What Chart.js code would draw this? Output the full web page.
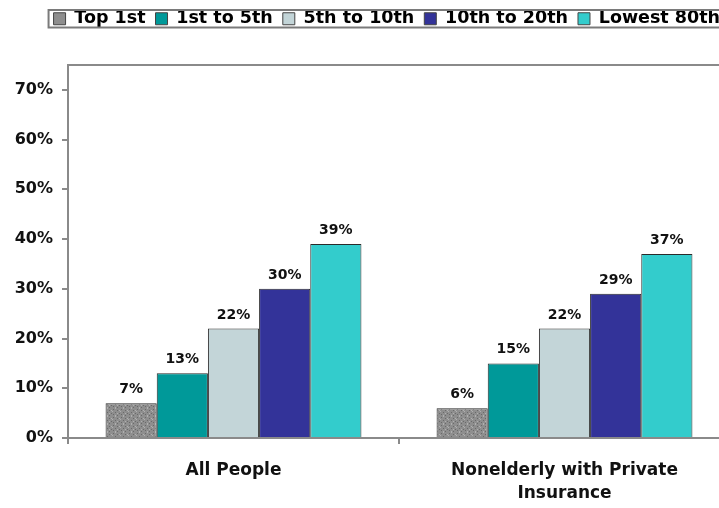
<!DOCTYPE html>
<html>
<head>
<meta charset="utf-8">
<script src="https://cdn.jsdelivr.net/npm/chart.js@4"></script>
<style>
  html, body { margin: 0; padding: 0; background: #fff; overflow: hidden; }
  #wrap { position: relative; width: 736px; height: 508px; }
</style>
</head>
<body>
<div id="wrap"><canvas id="shareChart"></canvas></div>
<script>
// categories and series (percent)
var categories = ['All People', ['Nonelderly with Private', 'Insurance']];
var seriesNames = ['Top 1st', '1st to 5th', '5th to 10th', '10th to 20th', 'Lowest 80th'];
var topFirst = [7, 6];
var firstToFifth = [13, 15];
var fifthToTenth = [22, 22];
var tenthToTwentieth = [30, 29];
var lowestEightieth = [39, 37];
var yTicks = [0, 10, 20, 30, 40, 50, 60, 70];

var FONT = '"DejaVu Sans", "Liberation Sans", Arial, sans-serif';
var AXIS_GRAY = '#8a8a8a';

// speckled gray fill for the "Top 1st" bars
function speckle() {
  var c = document.createElement('canvas');
  c.width = 8; c.height = 8;
  var g = c.getContext('2d');
  g.fillStyle = '#8e8e8e';
  g.fillRect(0, 0, 8, 8);
  g.fillStyle = '#6a6a6a';
  [[1, 1], [5, 2], [3, 4], [7, 5], [1, 6], [5, 7]].forEach(function (p) {
    g.fillRect(p[0], p[1], 1, 1);
  });
  g.fillStyle = '#b0b0b0';
  [[3, 0], [7, 2], [0, 3], [5, 5], [3, 7]].forEach(function (p) {
    g.fillRect(p[0], p[1], 1, 1);
  });
  return g.createPattern(c, 'repeat');
}

var fills = [speckle(), '#009999', '#c3d5d8', '#333399', '#33cccc'];
var legendFills = ['#8e8e8e', '#009999', '#c3d5d8', '#333399', '#33cccc'];
var values = [topFirst, firstToFifth, fifthToTenth, tenthToTwentieth, lowestEightieth];

var datasets = seriesNames.map(function (name, i) {
  return {
    label: name,
    data: values[i],
    backgroundColor: fills[i],
    borderColor: '#2a2a2a',
    borderWidth: 1,
    borderSkipped: 'bottom'
  };
});

// percent labels above each bar
var barLabels = {
  id: 'barLabels',
  afterDatasetsDraw: function (chart) {
    var ctx = chart.ctx;
    ctx.save();
    ctx.font = 'bold 14px ' + FONT;
    ctx.fillStyle = '#111';
    ctx.textAlign = 'center';
    ctx.textBaseline = 'alphabetic';
    chart.data.datasets.forEach(function (ds, i) {
      chart.getDatasetMeta(i).data.forEach(function (bar, j) {
        ctx.fillText(ds.data[j] + '%', bar.x, bar.y - 10);
      });
    });
    ctx.restore();
  }
};

// frame around the legend row
var legendFrame = {
  id: 'legendFrame',
  afterDraw: function (chart) {
    var boxes = chart.legend.legendHitBoxes;
    if (!boxes || !boxes.length) return;
    var first = boxes[0];
    var ctx = chart.ctx;
    ctx.save();
    ctx.strokeStyle = '#7a7a7a';
    ctx.lineWidth = 2;
    ctx.strokeRect(first.left - 5, first.top, chart.width + 20, first.height);
    ctx.restore();
  }
};

new Chart(document.getElementById('shareChart'), {
  type: 'bar',
  data: { labels: categories, datasets: datasets },
  plugins: [barLabels, legendFrame],
  options: {
    responsive: true,
    maintainAspectRatio: false,
    animation: false,
    layout: { padding: { left: 0, right: 6, top: 0, bottom: 0 } },
    datasets: {
      bar: { categoryPercentage: 0.773, barPercentage: 1.0 }
    },
    plugins: {
      tooltip: { enabled: false },
      legend: {
        position: 'top',
        align: 'end',
        labels: {
          boxWidth: 12,
          boxHeight: 12,
          padding: 10,
          color: '#111',
          font: { family: FONT, size: 17.5, weight: 'bold' },
          generateLabels: function (chart) {
            return chart.data.datasets.map(function (ds, i) {
              return {
                text: ds.label,
                fillStyle: legendFills[i],
                strokeStyle: '#444',
                lineWidth: 1,
                datasetIndex: i
              };
            });
          }
        }
      }
    },
    scales: {
      x: {
        type: 'category',
        position: 'bottom',
        offset: true,
        grid: { display: true, drawOnChartArea: false, offset: true, tickLength: 6, color: AXIS_GRAY, lineWidth: 2 },
        border: { display: true, color: AXIS_GRAY, width: 2 },
        ticks: {
          color: '#111',
          padding: 15,
          maxRotation: 0,
          font: { family: FONT, size: 17, weight: 'bold', lineHeight: 1.35 }
        },
        afterFit: function (scale) { scale.height = 70; }
      },
      xTop: {
        type: 'category',
        position: 'top',
        labels: categories,
        grid: { display: false },
        ticks: { display: false },
        border: { display: true, color: AXIS_GRAY, width: 2 },
        afterFit: function (scale) { scale.height = 27.5; }
      },
      y: {
        min: 0,
        max: 75,
        afterBuildTicks: function (scale) {
          scale.ticks = yTicks.map(function (v) { return { value: v }; });
        },
        grid: { display: true, drawOnChartArea: false, tickLength: 6, color: AXIS_GRAY, lineWidth: 2 },
        border: { display: true, color: AXIS_GRAY, width: 2 },
        ticks: {
          color: '#111',
          padding: 9,
          font: { family: FONT, size: 16, weight: 'bold' },
          callback: function (v) { return v + '%'; }
        },
        afterFit: function (scale) { scale.width = 68; }
      }
    }
  }
});
</script>
</body>
</html>
